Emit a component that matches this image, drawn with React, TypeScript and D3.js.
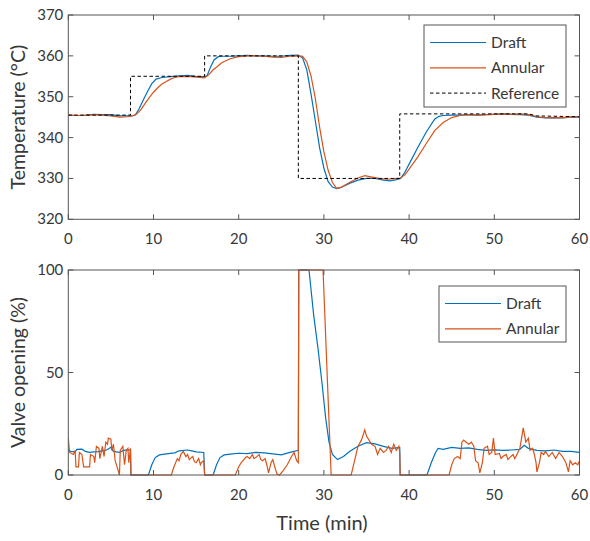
import * as d3 from 'd3'

// time (min), value pairs
const refTemp: [number, number][] = [
  [0, 345.5], [7.3, 345.5], [7.3, 355], [16, 355], [16, 360], [27, 360], [27, 330],
  [38.9, 330], [38.9, 345.8], [54, 345.8], [55, 345.3], [60, 345.1],
]

const draftTemp: [number, number][] = [
  [0, 345.5], [1, 345.4], [2, 345.5], [3, 345.7], [4, 345.6], [5, 345.6], [6, 345.3], [7, 345.3],
  [7.8, 345.4], [8.3, 347], [8.8, 349.2], [9.3, 351.3], [9.8, 353.2], [10.3, 354.3], [11, 354.7],
  [12, 354.9], [13, 355.1], [14, 355.2], [15, 355], [16, 354.9], [16.3, 355.2], [16.7, 357.3],
  [17.1, 359], [17.6, 359.8], [18, 359.9], [19, 359.9], [20, 360], [21, 360.1], [22, 360],
  [23, 360], [24, 359.9], [25, 359.9], [26, 360.1], [27, 360.2], [27.5, 359.5], [28, 356.5],
  [28.5, 350.5], [29, 344], [29.5, 337.5], [30, 332.5], [30.5, 329.2], [31, 327.9], [31.5, 327.5],
  [32, 327.8], [32.5, 328.3], [33, 328.8], [34, 329.6], [35, 330], [36, 330], [37, 329.6],
  [37.8, 329.4], [38.5, 329.7], [39, 330], [39.5, 331.5], [40, 333.5], [41, 337.5], [42, 341.3],
  [43, 344.5], [43.5, 345.2], [44, 345.4], [45, 345.5], [46, 345.5], [47, 345.6], [48, 345.5],
  [49, 345.6], [50, 345.7], [51, 345.8], [52, 345.7], [53, 345.6], [54, 345.5], [55, 345],
  [56, 344.8], [57, 344.9], [58, 344.8], [59, 345], [60, 345],
]

const annularTemp: [number, number][] = [
  [0, 345.5], [1, 345.4], [2, 345.4], [3, 345.6], [4, 345.5], [5, 345.3], [6, 345], [7, 345.1],
  [7.5, 345.3], [8, 345.7], [8.5, 346.8], [9, 348.3], [9.5, 349.8], [10, 351.1], [10.5, 352.2],
  [11, 353.1], [11.5, 353.7], [12, 354.3], [12.5, 354.7], [13, 354.9], [14, 355], [15, 354.8],
  [16, 354.6], [16.5, 355.4], [17, 356.6], [17.5, 357.4], [18, 358.3], [18.5, 358.8], [19, 359.3],
  [20, 359.8], [21, 360], [22, 360], [23, 359.9], [24, 359.7], [25, 359.6], [26, 359.9], [27, 360],
  [27.5, 359.9], [28, 358.5], [28.5, 355], [29, 349.5], [29.5, 342.5], [30, 336.5], [30.5, 332],
  [31, 329], [31.5, 327.6], [32, 327.8], [32.5, 328.4], [33, 329], [34, 330.1], [34.8, 330.7],
  [35.5, 330.4], [36.5, 330], [37.5, 329.8], [38.5, 330], [39, 330.1], [39.5, 330.9], [40, 332.3],
  [41, 335.2], [42, 338.5], [43, 341.7], [44, 343.7], [45, 344.9], [46, 345.4], [47, 345.6],
  [48, 345.5], [49, 345.6], [50, 345.7], [51, 345.8], [52, 345.7], [53, 345.8], [54, 345.6],
  [55, 345.1], [56, 344.9], [57, 344.8], [58, 344.9], [59, 345], [60, 345.1],
]

const draftValve: [number, number][] = [
  [0, 12], [0.3, 11.5], [0.8, 11.3], [1, 12.5], [1.6, 12.6], [2, 11.5], [2.5, 11], [3, 11.3],
  [3.5, 11.4], [4, 11.8], [4.5, 12.2], [5, 13.5], [5.3, 11.5], [6, 11], [6.5, 12], [7, 12.3],
  [7.3, 12.2], [7.35, 0], [9.4, 0], [9.8, 5], [10.2, 8.5], [10.7, 9.8], [11.5, 10.3], [12.5, 10.8],
  [13, 11.8], [14, 12.2], [14.5, 11.8], [15, 11.3], [15.9, 11], [16, 0], [17, 0], [17.4, 5],
  [17.8, 8.5], [18.3, 9.8], [19, 10.2], [20, 10.6], [21, 10.4], [22, 11], [23, 10.8], [24, 10.3],
  [25, 9.8], [26, 11], [27, 12], [27.05, 100], [28.25, 100], [28.8, 78], [29.3, 62], [29.8, 44],
  [30.2, 28], [30.6, 16], [31, 10], [31.6, 7.5], [32.3, 9], [33, 11.5], [34, 14], [35, 15.8],
  [36, 15.2], [37, 14], [38, 13], [38.9, 13.5], [38.95, 0], [42.1, 0], [42.6, 6], [43.1, 11],
  [43.4, 13], [44, 12.5], [45, 13.5], [46, 13], [47, 13.2], [48, 12.5], [49, 12], [50, 12.3],
  [51, 12], [52, 12.2], [53, 12.5], [53.5, 14.5], [54, 13], [55, 12], [56, 11.8], [57, 12.2],
  [58, 11.5], [59, 11.5], [60, 11],
]

const annularValve: [number, number][] = [
  [0, 18], [0.15, 11], [0.6, 10], [0.8, 12], [0.9, 4], [1.2, 4], [1.3, 11], [1.6, 10], [1.8, 4],
  [2.5, 4], [2.6, 10], [3.0, 9], [3.1, 6], [3.3, 14], [3.6, 13], [3.7, 8], [4, 14], [4.2, 9],
  [4.4, 16], [4.6, 15], [4.7, 18], [5, 17.5], [5.1, 12], [5.3, 15], [5.5, 7], [5.8, 3], [6, 0],
  [6.1, 12], [6.4, 14], [6.6, 5], [6.8, 12], [7, 13], [7.1, 6], [7.3, 13], [7.35, 0], [12.1, 0],
  [12.4, 4], [12.8, 8], [13, 7], [13.2, 10], [13.5, 11.5], [13.8, 9], [14, 10], [14.2, 7.5],
  [14.3, 8], [14.6, 9], [14.8, 6.5], [15, 6], [15.3, 8], [15.5, 5], [15.6, 6], [15.9, 7], [16, 0],
  [19.6, 0], [20, 4], [20.3, 6], [20.5, 7], [20.8, 8.5], [21, 9], [21.3, 8], [21.6, 10], [21.8, 8],
  [22, 8.5], [22.4, 10], [22.6, 7.5], [22.8, 7], [23.1, 8], [23.3, 5], [23.5, 1], [23.8, 6],
  [24, 7.5], [24.3, 3], [24.5, 0.5], [24.8, 0], [25.2, 2], [25.7, 5], [26.2, 9], [26.5, 11],
  [26.8, 7], [27, 6], [27.05, 100], [29.9, 100], [30.85, 0], [33.2, 0], [33.6, 7], [34, 14],
  [34.4, 17], [34.8, 22], [35, 19], [35.3, 17], [35.6, 15], [36, 14], [36.3, 10], [36.6, 13],
  [37, 11], [37.3, 12], [37.6, 14], [37.9, 11], [38.2, 15], [38.5, 12], [38.8, 14], [38.9, 11],
  [38.95, 0], [44.7, 0], [45, 5], [45.3, 8], [45.7, 9], [46, 8], [46.2, 16], [46.4, 17],
  [46.7, 16], [47, 15], [47.3, 16], [47.6, 14], [47.8, 7], [48.1, 6], [48.3, 1], [48.6, 6],
  [48.8, 13], [49.2, 14], [49.4, 10], [49.7, 11], [49.9, 18], [50.1, 10], [50.6, 10.5], [50.8, 8],
  [51, 9], [51.4, 10], [51.6, 7.5], [51.8, 8.5], [52.2, 10], [52.4, 8], [52.6, 9.5], [53, 13],
  [53.2, 18], [53.4, 23], [53.7, 16], [54, 18], [54.2, 12], [54.5, 13], [54.7, 10], [54.9, 6],
  [55, 1.5], [55.3, 6], [55.5, 11], [55.8, 10], [56, 11.5], [56.4, 9], [56.8, 11], [57.2, 8],
  [57.6, 11], [58, 9], [58.4, 6], [58.7, 1.5], [58.9, 7], [59.2, 5], [59.5, 6], [59.8, 5], [60, 7],
]

const tempTicks = [320, 330, 340, 350, 360, 370]
const valveTicks = [0, 50, 100]
const timeTicks = [0, 10, 20, 30, 40, 50, 60]

const BLUE = '#0072BD'
const ORANGE = '#D95319'
const AXIS = '#555'
const TEXT = '#383838'
const FONT = 'Lato, "Open Sans", sans-serif'

const left = 68.3
const right = 579.5
const x = d3.scaleLinear().domain([0, 60]).range([left, right])

function Panel({ top, bottom, yDomain, yTicks, ylabel, series, legend, legendBox }: any) {
  const y = d3.scaleLinear().domain(yDomain).range([bottom, top])
  const line = d3.line<[number, number]>().x(d => x(d[0])).y(d => y(d[1]))
  const clipId = `clip-${top}`
  return (
    <g>
      <defs>
        <clipPath id={clipId}>
          <rect x={left} y={top - 1} width={right - left} height={bottom - top + 2} />
        </clipPath>
      </defs>
      <g clipPath={`url(#${clipId})`}>
        {series.map((s: any, i: number) => (
          <path key={i} d={line(s.data) || ''} fill="none" stroke={s.color}
            strokeWidth={s.dash ? 1 : 1.2} strokeDasharray={s.dash ? '3.5,2.5' : undefined} />
        ))}
      </g>
      {timeTicks.map(t => (
        <g key={'x' + t}>
          <line x1={x(t)} x2={x(t)} y1={bottom} y2={bottom - 5} stroke={AXIS} />
          <line x1={x(t)} x2={x(t)} y1={top} y2={top + 5} stroke={AXIS} />
          <text x={x(t)} y={bottom + 25} textAnchor="middle" fontSize={15}
            fill={TEXT} fontFamily={FONT}>{t}</text>
        </g>
      ))}
      {yTicks.map((v: number) => (
        <g key={'y' + v}>
          <line x1={left} x2={left + 5} y1={y(v)} y2={y(v)} stroke={AXIS} />
          <line x1={right} x2={right - 5} y1={y(v)} y2={y(v)} stroke={AXIS} />
          <text x={left - 5} y={y(v) + 5} textAnchor="end" fontSize={15}
            fill={TEXT} fontFamily={FONT}>{v}</text>
        </g>
      ))}
      <rect x={left} y={top} width={right - left} height={bottom - top} fill="none" stroke={AXIS} strokeWidth={1} />
      <text transform={`translate(25,${(top + bottom) / 2}) rotate(-90)`} textAnchor="middle"
        fontSize={19.5} fill={TEXT} fontFamily={FONT}>{ylabel}</text>
      <rect x={legendBox.x} y={legendBox.y} width={legendBox.w} height={legendBox.h} fill="white" stroke={AXIS} />
      {legend.map((s: any, i: number) => {
        const ly = legendBox.y + 17.5 + i * 25.3
        return (
          <g key={s.name}>
            <line x1={legendBox.x + 6} x2={legendBox.x + 62} y1={ly} y2={ly} stroke={s.color}
              strokeWidth={s.dash ? 1 : 1.2} strokeDasharray={s.dash ? '3.5,2.5' : undefined} />
            <text x={legendBox.x + 67} y={ly + 5.5} fontSize={15.5} fill={TEXT}
              fontFamily={FONT}>{s.name}</text>
          </g>
        )
      })}
    </g>
  )
}

export default function App() {
  const tempSeries = [
    { name: 'Draft', data: draftTemp, color: BLUE },
    { name: 'Annular', data: annularTemp, color: ORANGE },
    { name: 'Reference', data: refTemp, color: '#000', dash: true },
  ]
  const valveSeries = [
    { name: 'Draft', data: draftValve, color: BLUE },
    { name: 'Annular', data: annularValve, color: ORANGE },
  ]
  return (
    <svg width={590} height={541} style={{ position: 'absolute', left: 0, top: 0, background: 'white' }}>
      <Panel top={15} bottom={219.3} yDomain={[320, 370]} yTicks={tempTicks} ylabel="Temperature (°C)"
        series={tempSeries} legend={tempSeries} legendBox={{ x: 424, y: 25, w: 142, h: 82 }} />
      <Panel top={270} bottom={475} yDomain={[0, 100]} yTicks={valveTicks} ylabel="Valve opening (%)"
        series={valveSeries} legend={valveSeries} legendBox={{ x: 439, y: 286, w: 127, h: 56 }} />
      <text x={322} y={530} textAnchor="middle" fontSize={20} fill={TEXT}
        fontFamily={FONT}>Time (min)</text>
    </svg>
  )
}
